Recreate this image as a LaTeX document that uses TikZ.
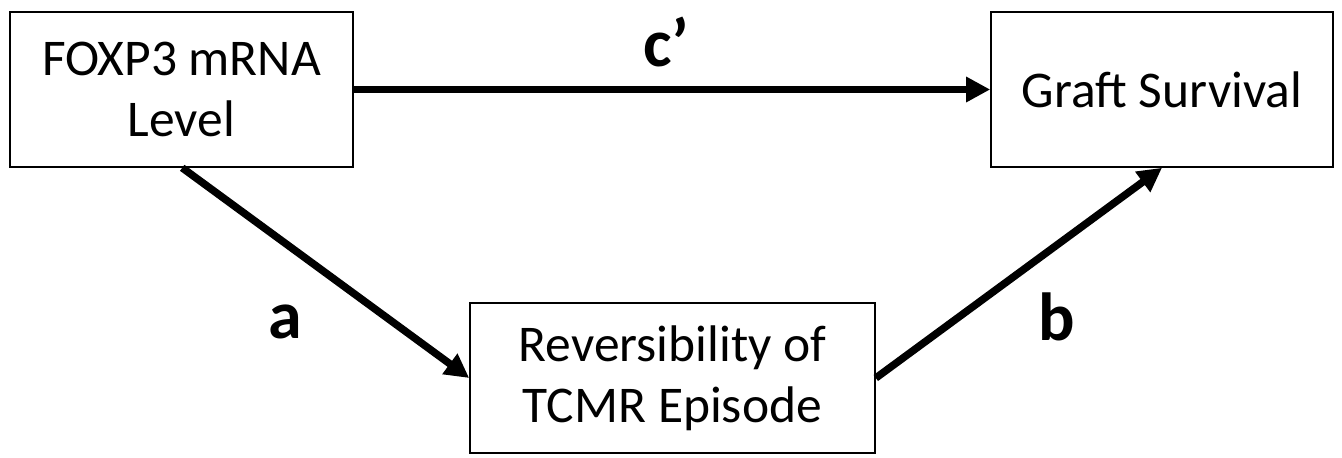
\documentclass[tikz,border=0pt]{standalone}
\usepackage{fontspec}
\setmainfont{Carlito}
\usetikzlibrary{arrows.meta}
\tikzset{
  varbox/.style={draw, line width=1.6pt, minimum width=343pt, minimum height=155pt, align=center, inner sep=0pt,
    font=\fontsize{51.5}{61}\selectfont},
  patharrow/.style={line width=7.5pt, -{Triangle[length=24pt,width=24pt]}},
  pathlabel/.style={font=\fontsize{68}{70}\selectfont\bfseries}
}
\begin{document}
\begin{tikzpicture}[x=1pt, y=-1pt, line join=miter]
			\useasboundingbox (0,0) rectangle (1342,458);
			%%%%%%%%%%%%%%%%%%%%%%%%%%%%%%%%%
			\node[varbox] (foxp) at (181.5,89.5) {FOXP3 mRNA\\Level};
			\node[varbox, minimum width=342pt] (graft) at (1162,89.5) {Graft Survival};
			\node[varbox, minimum width=405pt, minimum height=150pt] (tcmr) at (672.5,378) {Reversibility of\\TCMR Episode};
			%%%%%%%%%%%%%%%%%%%%%%%%%%%%%%%%%
			\node[pathlabel] (lc) at (666,42) {c’};
			\node[pathlabel] (la) at (285,322) {a};
			\node[pathlabel] (lb) at (1057,317) {b};
			%%%%%%%%%%%%%%%%%%%%%%%%%%%%%%%%%
			\draw[patharrow] (foxp.east) -- (graft.west);
			\draw[patharrow] ([xshift=173pt]foxp.south west) -- (tcmr.west);
			\draw[patharrow] (tcmr.east) -- (graft.south);
			%%%%%%%%%%%%%%%%%%%%%%%%%%%%%%%%%
		\end{tikzpicture}
\end{document}
